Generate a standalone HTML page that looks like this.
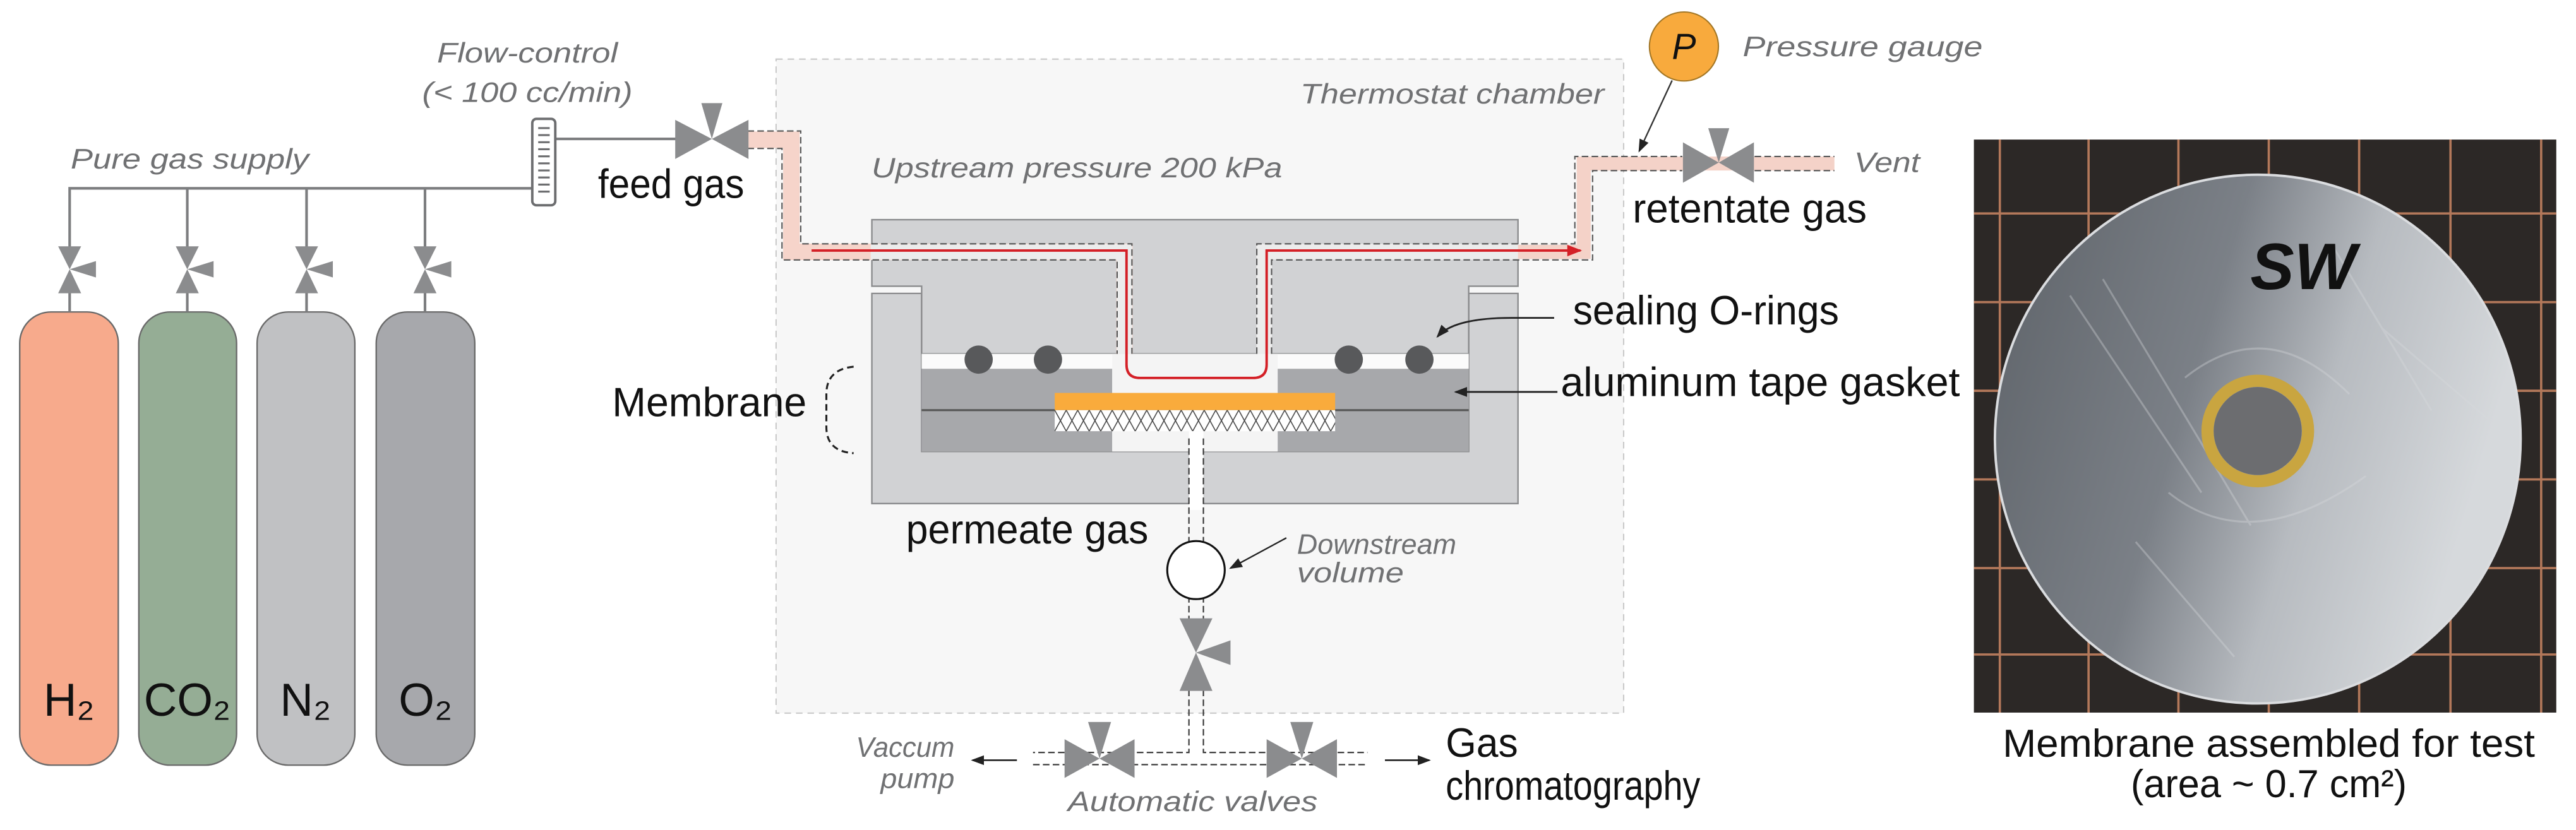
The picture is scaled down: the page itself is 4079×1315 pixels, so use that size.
<!DOCTYPE html>
<html><head><meta charset="utf-8"><style>
html,body{margin:0;padding:0;background:#fff;}
svg{display:block;}
text{font-family:"Liberation Sans",sans-serif;}
.it{font-style:italic;fill:#707173;font-size:17px;}
.lb{fill:#111;font-size:25px;}
</style></head><body>
<svg width="4079" height="1315" viewBox="0 0 1568 505.5" preserveAspectRatio="none" xmlns="http://www.w3.org/2000/svg">
<defs>
<pattern id="hatch" width="7" height="12.8" patternUnits="userSpaceOnUse" x="642" y="249.8">
<rect width="7" height="12.8" fill="#fff"/>
<path d="M0 0L7 12.8M7 0L0 12.8" stroke="#444" stroke-width="0.6"/>
</pattern>
<linearGradient id="disk" x1="0" y1="0" x2="1" y2="0.3">
<stop offset="0" stop-color="#5d6268"/>
<stop offset="0.45" stop-color="#7b8087"/>
<stop offset="0.7" stop-color="#b7bbc0"/>
<stop offset="1" stop-color="#d6d9dc"/>
</linearGradient>
<marker id="ah" markerWidth="8" markerHeight="8" refX="7" refY="4" orient="auto" markerUnits="userSpaceOnUse"><path d="M0 1L8 4L0 7z" fill="#222"/></marker>
<marker id="ahr" markerWidth="9" markerHeight="8" refX="8" refY="4" orient="auto" markerUnits="userSpaceOnUse"><path d="M0 0.5L9 4L0 7.5z" fill="#d42027"/></marker>
</defs>

<!-- Thermostat chamber -->
<rect x="472.4" y="36" width="515.9" height="398.3" fill="#f7f7f7" stroke="#c9c9c9" stroke-width="0.8" stroke-dasharray="4 3"/>
<text class="it" x="976.5" y="63" text-anchor="end" textLength="185" lengthAdjust="spacingAndGlyphs">Thermostat chamber</text>
<text class="it" x="530.5" y="108" textLength="250" lengthAdjust="spacingAndGlyphs">Upstream pressure 200 kPa</text>

<!-- Cylinders -->
<g stroke="#6a6a6a" stroke-width="0.9">
<rect x="12" y="190" width="60" height="276" rx="19" fill="#f7aa8c"/>
<rect x="84.5" y="190" width="59.5" height="276" rx="19" fill="#95ad95"/>
<rect x="156.5" y="190" width="59.5" height="276" rx="19" fill="#c0c1c3"/>
<rect x="229" y="190" width="60" height="276" rx="19" fill="#a7a8ac"/>
</g>
<g class="lb" font-size="28" text-anchor="middle">
<text x="42" y="436" font-size="28">H₂</text>
<text x="114" y="436" font-size="28">CO₂</text>
<text x="186" y="436" font-size="28">N₂</text>
<text x="259" y="436" font-size="28">O₂</text>
</g>

<!-- supply lines -->
<g stroke="#7d7e80" stroke-width="1.6" fill="none">
<path d="M42.4 151V114.7H324"/>
<path d="M114 151V114.7M186.6 151V114.7M258.7 151V114.7"/>
<path d="M42.4 178V190M114 178V190M186.6 178V190M258.7 178V190"/>
<path d="M338 84.6H415"/>
</g>
<g fill="#8b8c8e">
<g id="cv"><path d="M35.4 150H49.4L42.4 164Z M35.4 178.6H49.4L42.4 164Z M58.4 159V169L42.4 164Z"/></g>
<use href="#cv" x="71.6"/><use href="#cv" x="144.2"/><use href="#cv" x="216.3"/>
</g>
<text class="it" x="43" y="102.7" textLength="145" lengthAdjust="spacingAndGlyphs">Pure gas supply</text>

<!-- flow control -->
<rect x="324" y="72.4" width="14" height="52.6" rx="2.5" fill="#fff" stroke="#6d6e70" stroke-width="1.5"/>
<g stroke="#6d6e70" stroke-width="1.2">
<path d="M327.6 78H334.6M327.6 82.3H334.6M327.6 86.6H334.6M327.6 90.9H334.6M327.6 95.2H334.6M327.6 99.5H334.6M327.6 103.8H334.6M327.6 108.1H334.6M327.6 112.4H334.6M327.6 116.7H334.6"/>
</g>
<text class="it" x="321" y="38" text-anchor="middle" textLength="110" lengthAdjust="spacingAndGlyphs">Flow-control</text>
<text class="it" x="321" y="62" text-anchor="middle" textLength="128" lengthAdjust="spacingAndGlyphs">(&lt; 100 cc/min)</text>
<text class="lb" x="364" y="120.5" textLength="89" lengthAdjust="spacingAndGlyphs">feed gas</text>

<!-- cell body -->
<g fill="#d1d2d4" stroke="#8a8b8d" stroke-width="0.9">
<path d="M530.7 178.7H561V275H894V178.7H924V306.7H530.7Z"/>
<path d="M530.7 133.8H924V174.3H894V215.5H561V174.3H530.7Z"/>
</g>
<rect x="561" y="215.5" width="333" height="9.1" fill="#fbfbfb"/>
<rect x="561" y="224.6" width="116" height="50.4" fill="#a7a8ab"/>
<rect x="777.7" y="224.6" width="116.3" height="50.4" fill="#a7a8ab"/>
<rect x="677" y="215.5" width="100.7" height="59.5" fill="#f4f4f4"/>
<path d="M561 249.8H894" stroke="#555" stroke-width="1.2"/>
<rect x="642" y="239.3" width="170.7" height="10.5" fill="#f9ab3c"/>
<rect x="642" y="249.8" width="170.7" height="12.8" fill="url(#hatch)"/>
<g fill="#58595b">
<circle cx="595.7" cy="219" r="8.6"/><circle cx="637.9" cy="219" r="8.6"/>
<circle cx="821" cy="219" r="8.6"/><circle cx="864" cy="219" r="8.6"/>
</g>

<!-- channels -->
<path d="M455 85.1H481.7V153.4H684.5V215.5" fill="none" stroke="#f6d4ca" stroke-width="10"/>
<path d="M530 153.4H684.5V215.5M769.5 215.5V153.4H964" fill="none" stroke="#ececec" stroke-width="9.5"/>
<path d="M924 153.4H964V99.6H1116.6" fill="none" stroke="#f4d2c8" stroke-width="8.5"/>
<g fill="none" stroke="#555" stroke-width="0.8" stroke-dasharray="4 2">
<path d="M455 79.8H487.4V148.5H689V215.5"/>
<path d="M455 90.4H476V158.3H680V215.5"/>
<path d="M765 215.5V148.5H958.6V95.3H1024"/>
<path d="M774 215.5V158.3H969.4V103.9H1024"/>
<path d="M1068 95.3H1116.6M1068 103.9H1116.6"/>
</g>
<path d="M494 152.6H685.7V222Q685.7 230.2 693.9 230.2H762.8Q771 230.2 771 222V152.6H962" fill="none" stroke="#d42027" stroke-width="1.5" marker-end="url(#ahr)"/>

<!-- feed valve -->
<g fill="#8b8c8e">
<path d="M411 73V96.8L433.3 84.6Z M455.6 73V96.8L433.3 84.6Z M426.9 62.8H439.7L433.3 84.6Z"/>
<path d="M1024.4 86.7V111.3L1046.2 99Z M1067.6 86.7V111.3L1046.2 99Z M1039.8 78.1H1052.6L1046.2 99Z"/>
</g>

<!-- pressure gauge -->
<circle cx="1025" cy="28.3" r="21" fill="#f8aa3d" stroke="#a37726" stroke-width="0.8"/>
<text x="1025" y="36" text-anchor="middle" font-size="22" font-style="italic" fill="#111">P</text>
<path d="M1017.8 49L997.8 92" stroke="#333" stroke-width="0.9" marker-end="url(#ah)"/>
<text class="it" x="1060.8" y="34.3" textLength="146" lengthAdjust="spacingAndGlyphs">Pressure  gauge</text>
<text class="it" x="1128.6" y="104.7" textLength="40" lengthAdjust="spacingAndGlyphs">Vent</text>
<text class="lb" x="993.8" y="135.6" textLength="142.5" lengthAdjust="spacingAndGlyphs">retentate gas</text>
<text class="lb" x="957.4" y="197.5" textLength="162" lengthAdjust="spacingAndGlyphs">sealing O-rings</text>
<text class="lb" x="950" y="241.2" textLength="243" lengthAdjust="spacingAndGlyphs">aluminum tape gasket</text>
<path d="M946 193.6H920Q885 193.6 875 205" fill="none" stroke="#222" stroke-width="1.1" marker-end="url(#ah)"/>
<path d="M948 238.7H886" stroke="#222" stroke-width="1.1" marker-end="url(#ah)"/>

<!-- membrane label -->
<text class="lb" x="372.6" y="253.6" textLength="118.4" lengthAdjust="spacingAndGlyphs">Membrane</text>
<path d="M519.6 223.3Q503 225 503 240V260Q503 275 519.6 276" fill="none" stroke="#222" stroke-width="1.2" stroke-dasharray="4 2.5"/>

<!-- permeate line -->
<rect x="723.7" y="262.6" width="8.8" height="48" fill="#fff"/>
<g stroke="#333" stroke-width="0.8" stroke-dasharray="4 2" fill="none">
<path d="M723.7 267V331M732.5 267V331"/>
<path d="M723.7 363V378M732.5 363V378"/>
<path d="M723.7 420V458.3H628.8M732.5 420V458.3H832.4"/>
<path d="M628.8 465.7H832.4"/>
</g>
<ellipse cx="728" cy="347.2" rx="17.5" ry="17.7" fill="#fff" stroke="#111" stroke-width="1.2"/>
<text class="lb" x="551.5" y="331" textLength="147.5" lengthAdjust="spacingAndGlyphs">permeate gas</text>
<text class="it" x="789.5" y="337.4" textLength="97" lengthAdjust="spacingAndGlyphs">Downstream</text>
<text class="it" x="789.5" y="354.6" textLength="65" lengthAdjust="spacingAndGlyphs">volume</text>
<path d="M783 327.6L749 346" stroke="#222" stroke-width="0.9" marker-end="url(#ah)"/>
<g fill="#8b8c8e">
<path d="M718 376.6H738L728 397.5Z M718 420.8H738L728 397.5Z M749 390V405L728 397.5Z"/>
<path d="M648 450.2V473.8L669.3 462Z M690.6 450.2V473.8L669.3 462Z M662.3 439.7H676.3L669.3 462Z"/>
<path d="M771 450.2V473.8L792.4 462Z M813.8 450.2V473.8L792.4 462Z M785.4 439.7H799.4L792.4 462Z"/>
</g>
<text class="it" x="581" y="461" text-anchor="end" textLength="60" lengthAdjust="spacingAndGlyphs">Vaccum</text>
<text class="it" x="581" y="480" text-anchor="end" textLength="45" lengthAdjust="spacingAndGlyphs">pump</text>
<path d="M619 463H592" stroke="#222" stroke-width="1" marker-end="url(#ah)"/>
<path d="M843 463H870" stroke="#222" stroke-width="1" marker-end="url(#ah)"/>
<text class="it" x="650" y="494" textLength="152" lengthAdjust="spacingAndGlyphs">Automatic valves</text>
<text class="lb" x="880" y="461" textLength="44" lengthAdjust="spacingAndGlyphs">Gas</text>
<text class="lb" x="880" y="487" textLength="155" lengthAdjust="spacingAndGlyphs">chromatography</text>

<!-- photo -->
<rect x="1201.5" y="85" width="354.5" height="349" fill="#2c2826"/>
<g stroke="#b3785a" stroke-width="1.4">
<path d="M1217.3 85V434M1271.3 85V434M1326 85V434M1381 85V434M1436 85V434M1491.6 85V434M1546.8 85V434"/>
<path d="M1201.5 130H1556M1201.5 184H1556M1201.5 238H1556M1201.5 292H1556M1201.5 346H1556M1201.5 398.6H1556"/>
</g>
<ellipse cx="1374.3" cy="267.4" rx="160" ry="161" fill="url(#disk)" stroke="#dadcdf" stroke-width="1.5"/>
<g stroke="#d8dadd" stroke-width="1.2" opacity="0.35" fill="none">
<path d="M1260 180L1340 300M1280 170L1370 320M1450 200L1520 260M1300 330L1360 400M1420 150L1480 250"/>
<path d="M1330 230Q1380 190 1430 240M1320 300Q1370 340 1440 290"/>
</g>
<circle cx="1374.3" cy="262.5" r="30.6" fill="none" stroke="#c9a540" stroke-width="7.4"/>
<circle cx="1374.3" cy="262.5" r="26.8" fill="#6c6d70"/>
<text x="1402" y="176" text-anchor="middle" font-size="40" font-style="italic" font-weight="bold" fill="#111">SW</text>
<text x="1381" y="461" text-anchor="middle" font-size="24" fill="#111" textLength="324" lengthAdjust="spacingAndGlyphs">Membrane assembled for test</text>
<text x="1381" y="485.5" text-anchor="middle" font-size="24" fill="#111" textLength="168" lengthAdjust="spacingAndGlyphs">(area ~ 0.7 cm²)</text>
</svg>
</body></html>
